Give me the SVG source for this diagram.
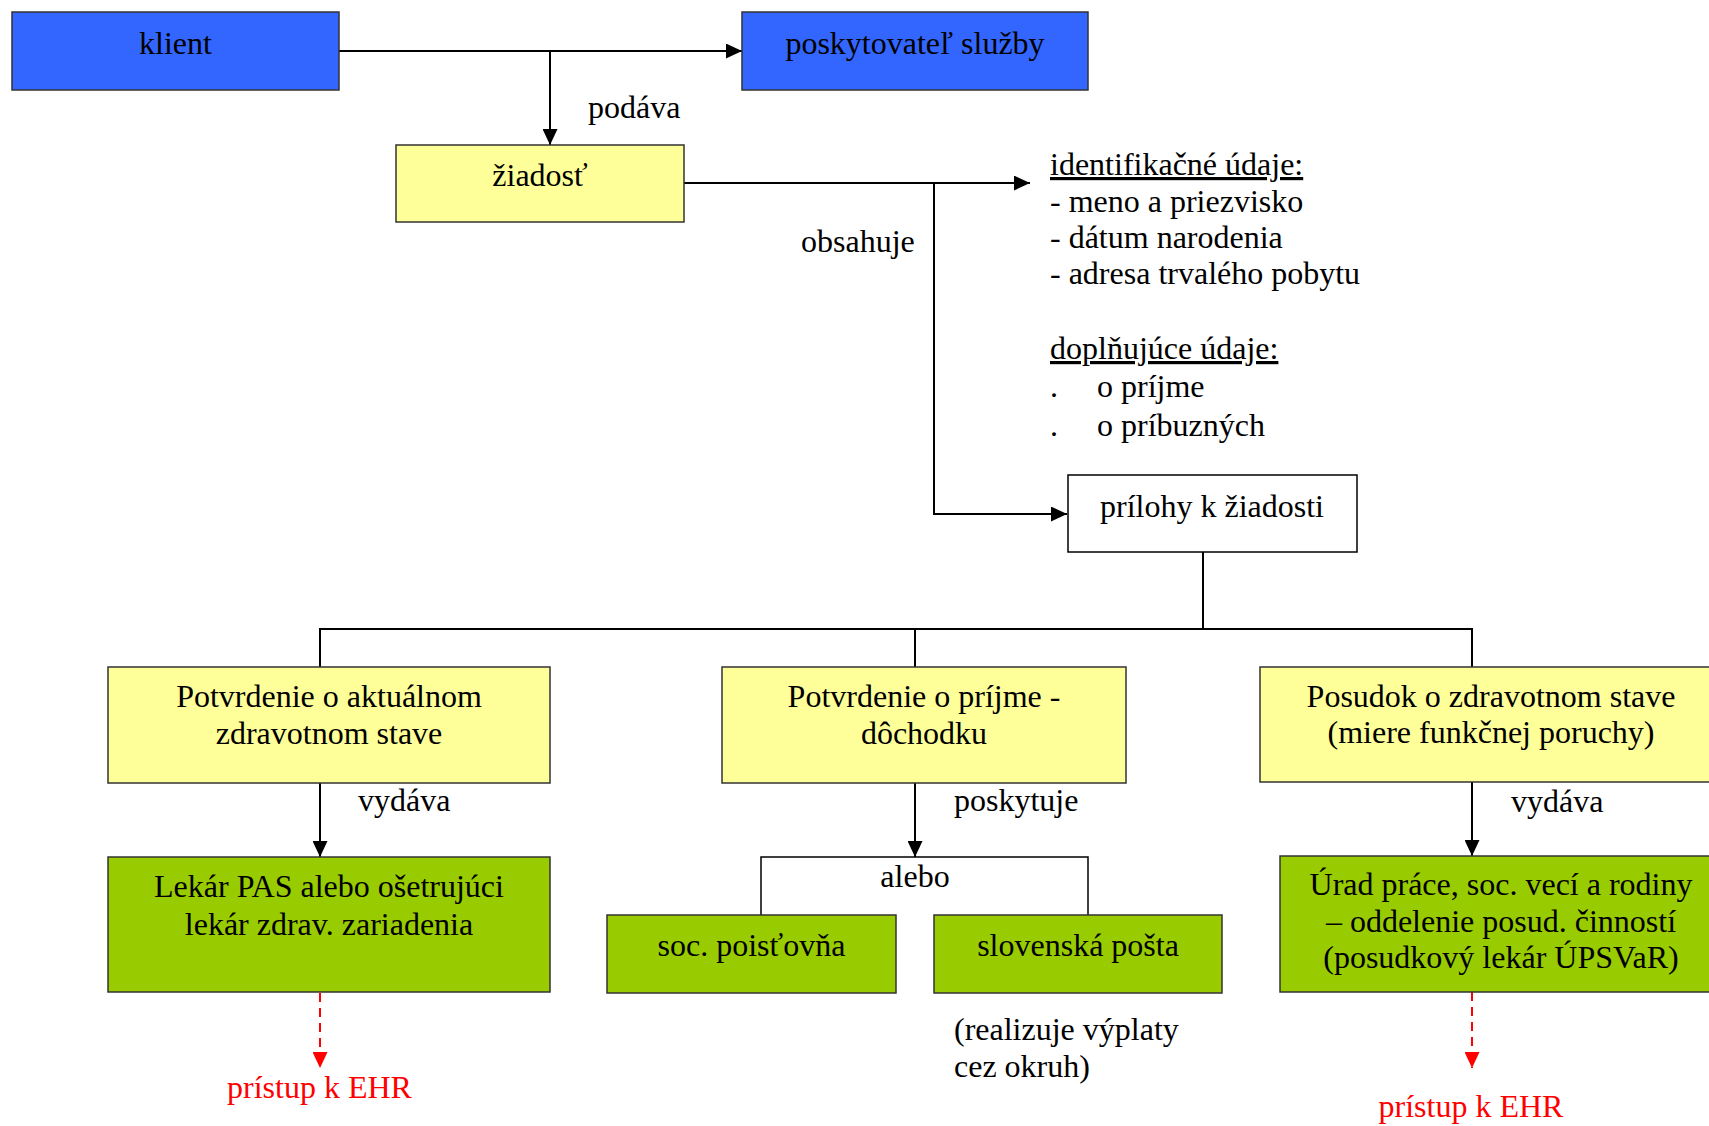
<svg xmlns="http://www.w3.org/2000/svg" width="1709" height="1126" viewBox="0 0 1709 1126">
<defs>
<style>
text{font-family:"Liberation Serif","Times New Roman",serif;font-size:32px;fill:#000}
.c{text-anchor:middle}
.r{fill:#ff0000}
.u{text-decoration:underline}
.box{stroke:#333;stroke-width:1.5}
.blue{fill:#3366ff}
.yel{fill:#ffff99}
.grn{fill:#99cc00}
.wht{fill:#fff}
.ln{stroke:#000;stroke-width:2;fill:none}
.dash{stroke:#ff0000;stroke-width:2;fill:none;stroke-dasharray:9 6}
</style>
<marker id="ah" markerUnits="userSpaceOnUse" markerWidth="16" markerHeight="15" refX="16" refY="7.5" orient="auto"><path d="M0,0 L16,7.5 L0,15 z" fill="#000"/></marker>
<marker id="ahr" markerUnits="userSpaceOnUse" markerWidth="16" markerHeight="15" refX="16" refY="7.5" orient="auto"><path d="M0,0 L16,7.5 L0,15 z" fill="#ff0000"/></marker>
</defs>
<rect width="1709" height="1126" fill="#fff"/>
<g id="connectors">
<path class="ln" d="M339,51 H742" marker-end="url(#ah)"/>
<path class="ln" d="M550,51 V145" marker-end="url(#ah)"/>
<path class="ln" d="M684,183 H1030" marker-end="url(#ah)"/>
<path class="ln" d="M934,183 V514 H1067" marker-end="url(#ah)"/>
<path class="ln" d="M1203,552 V629"/>
<path class="ln" d="M320,667 V629 H1472 V667"/>
<path class="ln" d="M915,629 V667"/>
<path class="ln" d="M320,783 V857" marker-end="url(#ah)"/>
<path class="ln" d="M915,783 V857" marker-end="url(#ah)"/>
<path class="ln" d="M761,915 V857 H1088 V915" style="stroke-width:1.5"/>
<path class="ln" d="M1472,782 V856" marker-end="url(#ah)"/>
<path class="dash" d="M320,993 V1068" marker-end="url(#ahr)"/>
<path class="dash" d="M1472,992 V1068" marker-end="url(#ahr)"/>
<text x="588" y="118">podáva</text>
<text x="801" y="252">obsahuje</text>
<text x="358" y="811">vydáva</text>
<text x="954" y="811">poskytuje</text>
<text x="1511" y="812">vydáva</text>
<text class="c" x="915" y="887">alebo</text>
</g>
<g id="klient"><rect class="box blue" x="12" y="12" width="327" height="78"/><text class="c" x="175.5" y="54">klient</text></g>
<g id="poskytovatel"><rect class="box blue" x="742" y="12" width="346" height="78"/><text class="c" x="915" y="54">poskytovateľ služby</text></g>
<g id="ziadost"><rect class="box yel" x="396" y="145" width="288" height="77"/><text class="c" x="540" y="186">žiadosť</text></g>
<g id="udaje">
<text x="1050" y="175" class="u">identifikačné údaje:</text>
<text x="1050" y="212">- meno a priezvisko</text>
<text x="1050" y="248">- dátum narodenia</text>
<text x="1050" y="284">- adresa trvalého pobytu</text>
<text x="1050" y="359" class="u">doplňujúce údaje:</text>
<text x="1050" y="397">.</text><text x="1097" y="397">o príjme</text>
<text x="1050" y="436">.</text><text x="1097" y="436">o príbuzných</text>
</g>
<g id="prilohy"><rect class="box wht" x="1068" y="475" width="289" height="77" style="stroke:#000"/><text class="c" x="1212" y="517">prílohy k žiadosti</text></g>
<g id="potvrdenie-zdrav"><rect class="box yel" x="108" y="667" width="442" height="116"/><text class="c" x="329" y="707">Potvrdenie o aktuálnom</text><text class="c" x="329" y="744">zdravotnom stave</text></g>
<g id="potvrdenie-prijem"><rect class="box yel" x="722" y="667" width="404" height="116"/><text class="c" x="924" y="707">Potvrdenie o príjme -</text><text class="c" x="924" y="744">dôchodku</text></g>
<g id="posudok"><rect class="box yel" x="1260" y="667" width="462" height="115"/><text class="c" x="1491" y="707">Posudok o zdravotnom stave</text><text class="c" x="1491" y="743">(miere funkčnej poruchy)</text></g>
<g id="lekar"><rect class="box grn" x="108" y="857" width="442" height="135"/><text class="c" x="329" y="897">Lekár PAS alebo ošetrujúci</text><text class="c" x="329" y="935">lekár zdrav. zariadenia</text></g>
<g id="socpoistovna"><rect class="box grn" x="607" y="915" width="289" height="78"/><text class="c" x="751.5" y="956">soc. poisťovňa</text></g>
<g id="posta"><rect class="box grn" x="934" y="915" width="288" height="78"/><text class="c" x="1078" y="956">slovenská pošta</text></g>
<g id="realizuje"><text x="954" y="1040">(realizuje výplaty</text><text x="954" y="1077">cez okruh)</text></g>
<g id="urad"><rect class="box grn" x="1280" y="856" width="442" height="136"/><text class="c" x="1501" y="895">Úrad práce, soc. vecí a rodiny</text><text class="c" x="1501" y="932">– oddelenie posud. činností</text><text class="c" x="1501" y="968">(posudkový lekár ÚPSVaR)</text></g>
<g id="ehr1"><text class="c r" x="319.5" y="1098">prístup k EHR</text></g>
<g id="ehr2"><text class="c r" x="1471" y="1117">prístup k EHR</text></g>
</svg>
